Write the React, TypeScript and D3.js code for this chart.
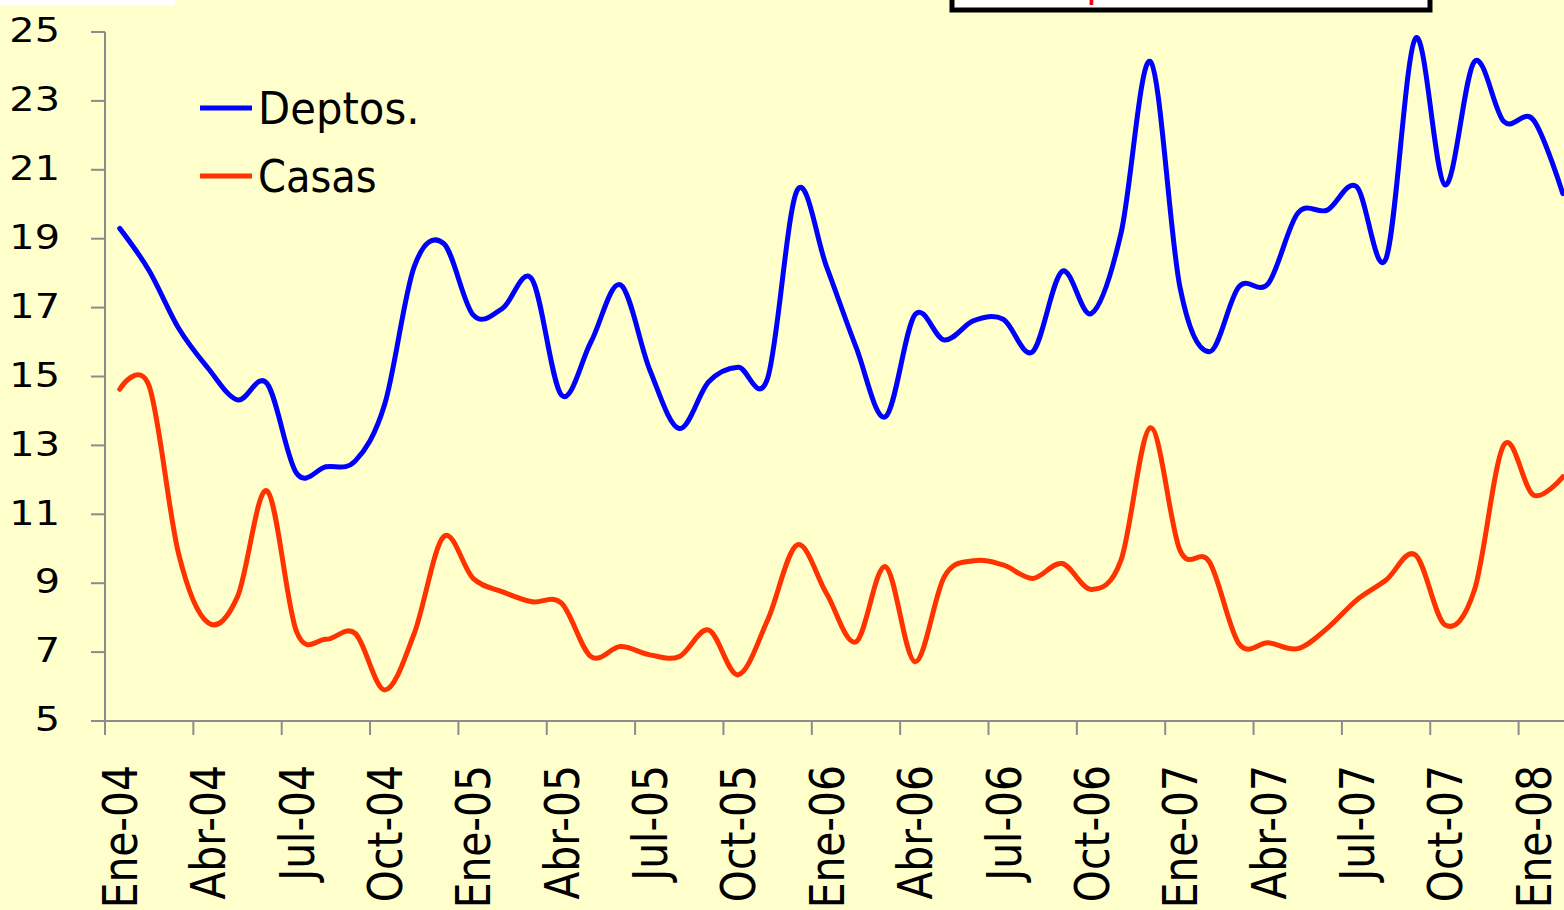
import { useEffect, useRef } from 'react';
import * as d3 from 'd3';

// month names and years for the category axis
const monthNames = ['Ene', 'Feb', 'Mar', 'Abr', 'May', 'Jun', 'Jul', 'Ago', 'Sep', 'Oct', 'Nov', 'Dic'];
const years = ['04', '05', '06', '07', '08'];
const categories: string[] = years.flatMap((y) => monthNames.map((m) => `${m}-${y}`)).slice(0, 51);

// series (Ene-04 .. Feb-08)
const deptos = [
  19.3, 18.07, 16.4, 15.24, 14.32, 14.8, 12.2, 12.38, 12.55, 14.2, 18.19, 18.86,
  16.79, 16.98, 17.82, 14.46, 16.0, 17.66, 15.19, 13.49, 14.85, 15.27, 14.95, 20.4,
  18.19, 15.86, 13.83, 16.79, 16.06, 16.62, 16.66, 15.72, 18.05, 16.83, 19.16, 24.14,
  17.6, 15.72, 17.6, 17.7, 19.74, 19.83, 20.51, 18.43, 24.82, 20.56, 24.14, 22.4,
  22.45, 20.31,
];
const casas = [
  14.63, 14.72, 9.85, 7.85, 8.61, 11.68, 7.6, 7.37, 7.54, 5.9, 7.54, 10.35,
  9.14, 8.75, 8.46, 8.42, 6.87, 7.16, 6.92, 6.87, 7.64, 6.34, 7.93, 10.11,
  8.7, 7.3, 9.48, 6.72, 9.19, 9.65, 9.53, 9.14, 9.57, 8.82, 9.67, 13.51,
  9.96, 9.62, 7.25, 7.27, 7.1, 7.69, 8.51, 9.09, 9.82, 7.79, 8.8, 13.01,
  11.56, 12.09,
];
const yTicks = [5, 7, 9, 11, 13, 15, 17, 19, 21, 23, 25];
const seriesNames = ['Deptos.', 'Casas'];
const seriesColors = ['#0000ff', '#ff3300'];

const W = 1564;
const H = 910;
const FONT = 'DejaVu Sans, Verdana, sans-serif';

const App = () => {
  const ref = useRef<SVGSVGElement>(null);

  useEffect(() => {
    const svg = d3.select(ref.current);
    svg.selectAll('*').remove();

    const step = 29.45;
    const x0 = 105;
    const x = d3.scaleBand<string>().domain(categories).range([x0, x0 + step * categories.length]).padding(0);
    const y = d3.scaleLinear().domain([5, 25]).range([721, 32]);
    const cx = (i: number) => (x(categories[i]) as number) + x.bandwidth() / 2;

    // background
    svg.append('rect').attr('width', W).attr('height', H).attr('fill', '#ffffcc');

    // bits of the slide around the chart
    svg.append('rect').attr('x', 0).attr('y', 0).attr('width', 175).attr('height', 5).attr('fill', '#ffffff');
    svg.append('rect').attr('x', 952).attr('y', -30).attr('width', 478).attr('height', 40)
      .attr('fill', '#ffffff').attr('stroke', '#000').attr('stroke-width', 5);
    svg.append('text').attr('x', 1086).attr('y', -4).attr('font-family', FONT).attr('font-size', 40)
      .attr('fill', '#ff0000').text('p');
    svg.append('text').attr('x', 1345).attr('y', -8).attr('font-family', FONT).attr('font-size', 40)
      .attr('fill', '#ff0000').text(',');

    const axisColor = '#8c8c8c';

    // y axis
    svg.append('line').attr('x1', x0).attr('x2', x0).attr('y1', y(25)).attr('y2', y(5))
      .attr('stroke', axisColor).attr('stroke-width', 2);
    yTicks.forEach((t) => {
      svg.append('line').attr('x1', 91).attr('x2', x0).attr('y1', y(t)).attr('y2', y(t))
        .attr('stroke', axisColor).attr('stroke-width', 2);
      svg.append('text')
        .attr('transform', `translate(60,${y(t) - 2}) scale(1.17,1)`)
        .attr('text-anchor', 'end')
        .attr('dy', '0.36em')
        .attr('font-family', FONT)
        .attr('font-size', 34)
        .attr('fill', '#000')
        .text(t);
    });

    // x axis
    svg.append('line').attr('x1', 91).attr('x2', W).attr('y1', y(5)).attr('y2', y(5))
      .attr('stroke', axisColor).attr('stroke-width', 2);
    categories.forEach((c, i) => {
      if (i % 3 !== 0) return;
      const xb = x(c) as number;
      svg.append('line').attr('x1', xb).attr('x2', xb).attr('y1', y(5)).attr('y2', y(5) + 14)
        .attr('stroke', axisColor).attr('stroke-width', 2);
      svg.append('text')
        .attr('transform', `translate(${cx(i)},765) rotate(-90) scale(0.85,1)`)
        .attr('text-anchor', 'end')
        .attr('dy', '0.36em')
        .attr('font-family', FONT)
        .attr('font-size', 48)
        .attr('fill', '#000')
        .text(c);
    });

    // lines
    const line = d3.line<number>()
      .x((_, i) => cx(i))
      .y((d) => y(d))
      .curve(d3.curveCardinal.tension(0));

    [deptos, casas].forEach((s, k) => {
      svg.append('path')
        .datum(s)
        .attr('d', line)
        .attr('fill', 'none')
        .attr('stroke', seriesColors[k])
        .attr('stroke-width', 5)
        .attr('stroke-linejoin', 'round')
        .attr('stroke-linecap', 'round');
    });

    // legend
    seriesNames.forEach((name, k) => {
      const ly = 108 + k * 68;
      svg.append('line').attr('x1', 200).attr('x2', 252).attr('y1', ly).attr('y2', ly)
        .attr('stroke', seriesColors[k]).attr('stroke-width', 5);
      svg.append('text')
        .attr('transform', `translate(258,${ly}) scale(${k === 0 ? 0.95 : 0.91},1)`)
        .attr('dy', '0.36em')
        .attr('font-family', FONT)
        .attr('font-size', 44)
        .attr('fill', '#000')
        .text(name);
    });
  }, []);

  return (
    <div style={{ position: 'absolute', left: 0, top: 0 }}>
      <svg ref={ref} width={W} height={H} style={{ display: 'block' }} />
    </div>
  );
};

export default App;
